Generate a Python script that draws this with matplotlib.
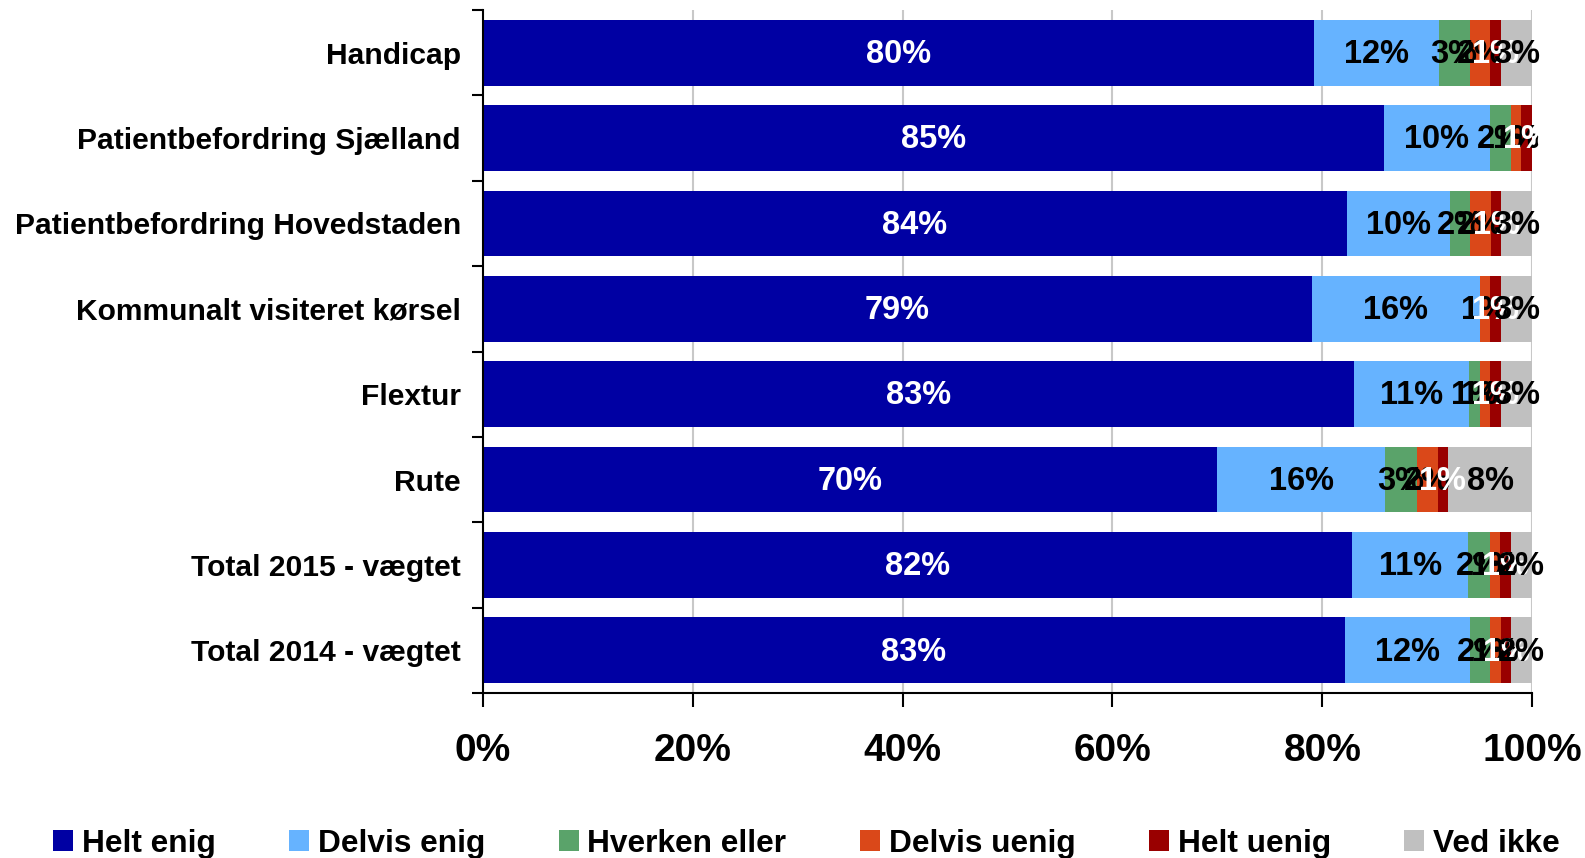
import numpy as np
from matplotlib import pyplot as plt

plt.rcParams['font.family'] = ['Liberation Sans', 'DejaVu Sans']
plt.rcParams['font.weight'] = 'bold'

categories = ['Handicap', 'Patientbefordring Sjælland', 'Patientbefordring Hovedstaden',
              'Kommunalt visiteret kørsel', 'Flextur', 'Rute',
              'Total 2015 - vægtet', 'Total 2014 - vægtet']
series_names = ['Helt enig', 'Delvis enig', 'Hverken eller', 'Delvis uenig', 'Helt uenig', 'Ved ikke']

# svarfordeling i procent (som på etiketterne), Excel skalerer til 100%
helt_enig = [80, 85, 84, 79, 83, 70, 82, 83]
delvis_enig = [12, 10, 10, 16, 11, 16, 11, 12]
hverken_eller = [3, 2, 2, 0, 1, 3, 2, 2]
delvis_uenig = [2, 1, 2, 1, 1, 2, 1, 1]
helt_uenig = [1, 1, 1, 1, 1, 1, 1, 1]
ved_ikke = [3, 0, 3, 3, 3, 8, 2, 2]

colors = ['#0000A3', '#66B3FF', '#5AA36A', '#DA4819', '#990000', '#C0C0C0']
label_colors = ['white', 'black', 'black', 'black', 'white', 'black']

data = np.array([helt_enig, delvis_enig, hverken_eller, delvis_uenig, helt_uenig, ved_ikke], dtype=float)
shares = data / data.sum(axis=0) * 100

fig = plt.figure(figsize=(15.85, 8.58), dpi=100)
ax = fig.add_axes([483 / 1585, 1 - 693 / 858, (1532 - 483) / 1585, (693 - 10) / 858])

y = np.arange(len(categories))
left = np.zeros(len(categories))
for k in range(len(series_names)):
    ax.barh(y, shares[k], left=left, height=0.77, color=colors[k], label=series_names[k], zorder=2)
    for i in range(len(categories)):
        if data[k, i] > 0:
            ax.text(left[i] + shares[k, i] / 2, y[i] + 0.02, '%d%%' % data[k, i], ha='center', va='center',
                    fontsize=23.5, fontweight='bold', color=label_colors[k], zorder=3)
    left += shares[k]

ax.set_xlim(0, 100)
ax.set_ylim(len(categories) - 0.5, -0.5)
ax.set_xticks(np.arange(0, 101, 20))
ax.set_xticklabels(['%d%%' % v for v in range(0, 101, 20)], fontsize=28, fontweight='bold')
ax.set_yticks(y)
ax.set_yticklabels(categories, fontsize=21.6, fontweight='bold')
ax.set_yticks(np.arange(-0.5, len(categories)), minor=True)
ax.tick_params(axis='y', which='major', length=0, pad=16)
ax.tick_params(axis='y', which='minor', length=8, width=1.5, direction='out')
ax.tick_params(axis='x', length=10, width=1.5, direction='out', pad=19)

for v in range(20, 101, 20):
    ax.axvline(v, color='#C8C8C8', lw=1.5, zorder=1)

for s in ['top', 'right']:
    ax.spines[s].set_visible(False)
for s in ['left', 'bottom']:
    ax.spines[s].set_linewidth(1.5)
    ax.spines[s].set_zorder(4)

fig.legend(loc='center left', bbox_to_anchor=(53 / 1585, 1 - 844 / 858), ncol=6, frameon=False,
           handlelength=0.63, handleheight=0.63, handletextpad=0.28,
           columnspacing=2.32, borderpad=0, borderaxespad=0,
           prop={'weight': 'bold', 'size': 22.8})

plt.savefig('out.png', dpi=100)
